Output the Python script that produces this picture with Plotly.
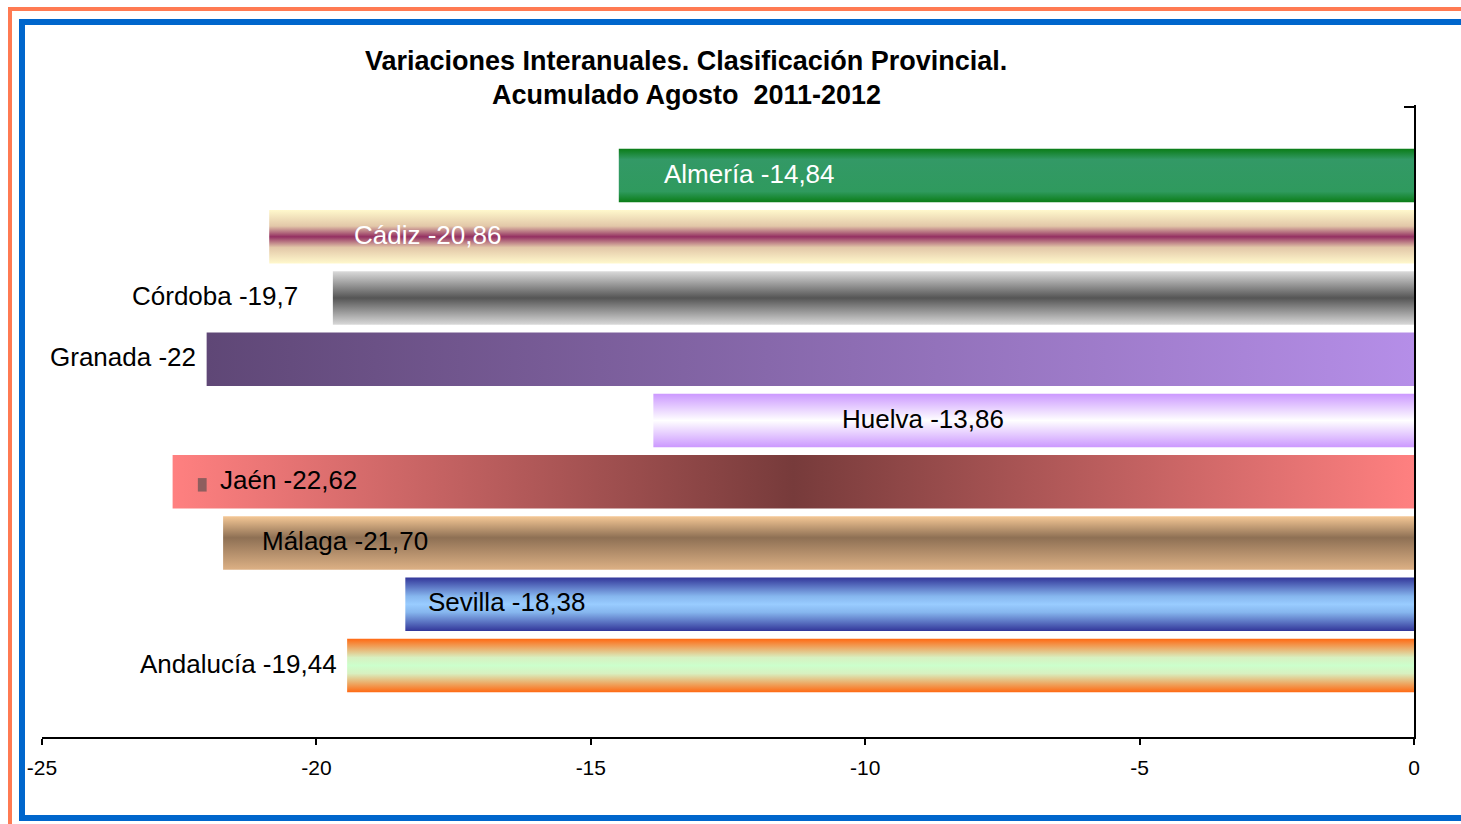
import plotly.graph_objects as go

# ---------------- data ----------------
categories = ["Almería", "Cádiz", "Córdoba", "Granada", "Huelva",
              "Jaén", "Málaga", "Sevilla", "Andalucía"]
bar_values = [-14.49, -20.86, -19.7, -22.0, -13.86, -22.62, -21.70, -18.38, -19.44]
label_texts = ["Almería -14,84", "Cádiz -20,86", "Córdoba -19,7", "Granada -22",
               "Huelva -13,86", "Jaén -22,62", "Málaga -21,70", "Sevilla -18,38",
               "Andalucía -19,44"]
x_tick_vals = [-25, -20, -15, -10, -5, 0]
x_tick_text = ["-25", "-20", "-15", "-10", "-5", "0"]
title_line1 = "Variaciones Interanuales. Clasificación Provincial."
title_line2 = "Acumulado Agosto  2011-2012"

# ---------------- styles ----------------
gradients = [
    ("vertical", [[0, "#0b7d18"], [0.2, "#2f9a5e"], [0.8, "#339966"], [1, "#0b7d18"]]),
    ("vertical", [[0, "#fff8cc"], [0.3, "#e2c7a8"], [0.5, "#943062"], [0.7, "#e2c7a8"], [1, "#fff8cc"]]),
    ("vertical", [[0, "#d8d8d8"], [0.5, "#555555"], [1, "#dadada"]]),
    ("horizontal", [[0, "#5f4776"], [1, "#b58ee8"]]),
    ("vertical", [[0, "#cc99ff"], [0.5, "#ffffff"], [1, "#cc99ff"]]),
    ("horizontal", [[0, "#ff8080"], [0.5, "#773b3b"], [1, "#ff8080"]]),
    ("vertical", [[0, "#dcb084"], [0.6, "#8e7054"], [1, "#f4c795"]]),
    ("vertical", [[0, "#33379a"], [0.35, "#86b6ee"], [0.5, "#99ccff"], [0.65, "#86b6ee"], [1, "#33379a"]]),
    ("vertical", [[0, "#ff6a14"], [0.35, "#d8f0c0"], [0.5, "#ccffcc"], [0.65, "#d8f0c0"], [1, "#ff6a14"]]),
]
label_pos = [(-13.70, "left", "white"), (-19.35, "left", "white"), (-20.30, "right", "black"),
             (-22.15, "right", "black"), (-10.46, "left", "black"), (-21.79, "left", "black"),
             (-21.03, "left", "black"), (-18.00, "left", "black"), (-19.58, "right", "black")]
half_h = 0.435
FONT = "Liberation Sans, Arial, sans-serif"

fig = go.Figure()
for i, (cat, v) in enumerate(zip(categories, bar_values)):
    gtype, cs = gradients[i]
    fig.add_trace(go.Scatter(
        x=[v, 0, 0, v, v],
        y=[i - half_h, i - half_h, i + half_h, i + half_h, i - half_h],
        fill="toself", mode="lines", line=dict(width=0),
        fillgradient=dict(type=gtype, colorscale=cs),
        name=cat, hoverinfo="skip", showlegend=False))

annotations = []
for i, (txt, (lx, anc, col)) in enumerate(zip(label_texts, label_pos)):
    annotations.append(dict(x=lx, y=i - 0.03, xref="x", yref="y", text=txt, showarrow=False,
                            xanchor=anc, yanchor="middle",
                            font=dict(family=FONT, size=26, color=col)))
annotations.append(dict(x=0.4694, y=1.0696, xref="paper", yref="paper", text="<b>" + title_line1 + "</b>",
                        showarrow=False, xanchor="center", yanchor="middle",
                        font=dict(family=FONT, size=27, color="black")))
annotations.append(dict(x=0.4694, y=1.0158, xref="paper", yref="paper", text="<b>" + title_line2 + "</b>",
                        showarrow=False, xanchor="center", yanchor="middle",
                        font=dict(family=FONT, size=27, color="black")))

shapes = [
    # small marker next to Jaén label
    dict(type="rect", xref="x", yref="y", x0=-22.16, x1=-22.0, y0=5.05 - 0.11, y1=5.05 + 0.11,
         line=dict(width=0), fillcolor="#8e5e5e"),
    # orange outer frame
    dict(type="rect", xref="paper", yref="paper", x0=-0.02332, x1=1.06, y0=-0.17, y1=1.1519,
         line=dict(color="#ff7a52", width=4), fillcolor="rgba(0,0,0,0)", layer="above"),
    # blue inner frame
    dict(type="rect", xref="paper", yref="paper", x0=-0.01458, x1=1.06, y0=-0.12816, y1=1.13133,
         line=dict(color="#0066cc", width=6), fillcolor="rgba(0,0,0,0)", layer="above"),
]

fig.update_layout(
    width=1461, height=824, autosize=False,
    margin=dict(l=42, r=47, t=105, b=87),
    paper_bgcolor="white", plot_bgcolor="white",
    annotations=annotations, shapes=shapes,
    xaxis=dict(range=[-25, 0], tickvals=x_tick_vals, ticktext=x_tick_text,
               showline=True, linecolor="black", linewidth=2,
               ticks="outside", ticklen=6, tickwidth=2, tickcolor="black",
               showgrid=False, zeroline=False, ticklabelstandoff=5,
               tickfont=dict(family=FONT, size=21, color="black")),
    yaxis=dict(range=[9.167, -1.151], side="right", showline=True, linecolor="black", linewidth=2,
               tickmode="array", tickvals=[-1.12], ticktext=[""], ticks="inside", ticklen=10,
               tickwidth=2, tickcolor="black",
               showticklabels=True, showgrid=False, zeroline=False),
)

fig.write_html("out.html", config={"displayModeBar": False},
               post_script="document.body.style.margin='0';document.body.style.overflow='hidden';")
